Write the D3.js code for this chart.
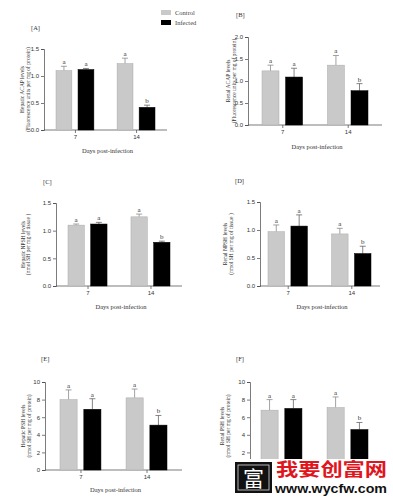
<!DOCTYPE html>
<html>
<head>
<meta charset="utf-8">
<script src="https://cdn.jsdelivr.net/npm/d3@7"></script>
<style>
  body { margin: 0; background: #fff; }
  svg { display: block; font-family: "Liberation Serif", "DejaVu Serif", serif; }
  .tick text { font-size: 6px; fill: #333; }
  .domain, .tick line { stroke: #444; stroke-width: 0.7; }
</style>
</head>
<body>
<div id="chart"></div>
<script>
// categories
const days = ['7', '14'];
const groups = ['Control', 'Infected'];

// y ticks
const ticks15 = [0, 0.5, 1.0, 1.5];
const ticks20 = [0, 0.5, 1.0, 1.5, 2.0];
const ticks10 = [0, 2, 4, 6, 8, 10];

// [A] hepatic ACAP
const hepAcapControl = [1.10, 1.23];
const hepAcapControlErr = [0.08, 0.10];
const hepAcapInfected = [1.12, 0.42];
const hepAcapInfectedErr = [0.02, 0.04];
const hepAcapLetters = [['a', 'a'], ['a', 'b']];

// [B] renal ACAP
const renAcapControl = [1.23, 1.36];
const renAcapControlErr = [0.13, 0.22];
const renAcapInfected = [1.09, 0.78];
const renAcapInfectedErr = [0.20, 0.16];
const renAcapLetters = [['a', 'a'], ['a', 'b']];

// [C] hepatic NPSH
const hepNpshControl = [1.10, 1.25];
const hepNpshControlErr = [0.02, 0.05];
const hepNpshInfected = [1.12, 0.79];
const hepNpshInfectedErr = [0.03, 0.02];
const hepNpshLetters = [['a', 'a'], ['a', 'b']];

// [D] renal NPSH
const renNpshControl = [0.97, 0.93];
const renNpshControlErr = [0.12, 0.10];
const renNpshInfected = [1.07, 0.58];
const renNpshInfectedErr = [0.20, 0.13];
const renNpshLetters = [['a', 'a'], ['a', 'b']];

// [E] hepatic PSH
const hepPshControl = [8.0, 8.2];
const hepPshControlErr = [1.1, 1.0];
const hepPshInfected = [6.9, 5.1];
const hepPshInfectedErr = [1.2, 1.1];
const hepPshLetters = [['a', 'a'], ['a', 'b']];

// [F] renal PSH
const renPshControl = [6.8, 7.1];
const renPshControlErr = [1.2, 1.2];
const renPshInfected = [7.0, 4.6];
const renPshInfectedErr = [1.0, 0.8];
const renPshLetters = [['a', 'a'], ['a', 'b']];

const colors = { Control: '#c9c9c9', Infected: '#000' };
const errColors = { Control: '#8a8a8a', Infected: '#666' };

const svg = d3.select('#chart').append('svg')
    .attr('width', 393)
    .attr('height', 500);

svg.append('rect').attr('width', 393).attr('height', 500).attr('fill', '#fff');

function drawPanel(p) {
    const y = d3.scaleLinear().domain([0, p.ticks[p.ticks.length - 1]]).range([p.y0, p.yTop]);
    const xGroup = d3.scaleBand().domain(days).range(p.bars).paddingInner(0.38);
    const xSeries = d3.scaleBand().domain(groups).range([0, xGroup.bandwidth()]).paddingInner(0.28);

    const g = svg.append('g');

    // y axis
    const yAxisG = g.append('g')
        .attr('transform', `translate(${p.x0},0)`)
        .call(d3.axisLeft(y).tickValues(p.ticks).tickSize(3).tickPadding(2)
            .tickFormat(p.fmt));

    // x axis (labels of the last panel sit under the watermark)
    const xAxisG = g.append('g')
        .attr('transform', `translate(0,${p.y0})`)
        .call(d3.axisBottom(d3.scalePoint().domain(days).range([xGroup('7') + xGroup.bandwidth() / 2, xGroup('14') + xGroup.bandwidth() / 2]))
            .tickSize(3).tickPadding(2).tickSizeOuter(0))
        .call(a => a.select('.domain').attr('d', `M${p.x0},0H${p.x1}`));
    if (p.hideX) {
        xAxisG.selectAll('.tick text').remove();
        yAxisG.selectAll('.tick').filter(d => d === 0).select('text').remove();
    }

    const rows = [];
    days.forEach((d, i) => {
        groups.forEach((s, j) => {
            const src = s === 'Control' ? p.control : p.infected;
            const err = s === 'Control' ? p.controlErr : p.infectedErr;
            rows.push({ day: d, series: s, value: src[i], err: err[i], letter: p.letters[j][i] });
        });
    });

    const bx = d => xGroup(d.day) + xSeries(d.series);
    const cx = d => bx(d) + xSeries.bandwidth() / 2;

    // error bars (drawn first so they come out of the bar top)
    g.selectAll('.err').data(rows).join('path')
        .attr('class', 'err')
        .attr('fill', 'none')
        .attr('stroke', d => errColors[d.series])
        .attr('stroke-width', 0.8)
        .attr('d', d => `M${cx(d)},${y(d.value)}V${y(d.value + d.err)}M${cx(d) - 3},${y(d.value + d.err)}H${cx(d) + 3}`);

    g.selectAll('.bar').data(rows).join('rect')
        .attr('class', 'bar')
        .attr('x', bx)
        .attr('y', d => y(d.value))
        .attr('width', xSeries.bandwidth())
        .attr('height', d => y(0) - y(d.value))
        .attr('fill', d => colors[d.series])
        .attr('stroke', d => d.series === 'Control' ? '#aaa' : '#000')
        .attr('stroke-width', 0.5);

    g.selectAll('.sig').data(rows).join('text')
        .attr('class', 'sig')
        .attr('x', cx)
        .attr('y', d => y(d.value + d.err) - 2)
        .attr('text-anchor', 'middle')
        .attr('font-size', 7)
        .attr('fill', '#333')
        .text(d => d.letter);

    // panel tag
    g.append('text')
        .attr('x', p.tag[0]).attr('y', p.tag[1])
        .attr('font-size', 6.5).attr('fill', '#333')
        .text(p.name);

    // y title, two lines
    const cy = (p.y0 + p.yTop) / 2;
    p.ytitle.forEach((t, k) => {
        g.append('text')
            .attr('transform', `translate(${p.ytx[k]},${cy}) rotate(-90)`)
            .attr('text-anchor', 'middle')
            .attr('dy', '0.35em')
            .attr('font-size', 5.5)
            .attr('fill', '#333')
            .text(t);
    });

    // x title
    if (!p.hideX) {
        g.append('text')
            .attr('x', (p.x0 + p.x1) / 2 + 2).attr('y', p.xty)
            .attr('text-anchor', 'middle')
            .attr('font-size', 6.5).attr('fill', '#333')
            .text('Days post-infection');
    }
}

const fmt1 = d3.format('.1f');
const fmt0 = d3.format('d');

drawPanel({ name: '[A]', ticks: ticks15, fmt: fmt1, x0: 44, x1: 167, y0: 130, yTop: 49, bars: [56, 155],
    control: hepAcapControl, controlErr: hepAcapControlErr, infected: hepAcapInfected, infectedErr: hepAcapInfectedErr,
    letters: hepAcapLetters, tag: [31, 30], ytx: [22, 28], xty: 153,
    ytitle: ['Hepatic ACAP levels', '(Fluorescence units per mg of protein)'] });

drawPanel({ name: '[B]', ticks: ticks20, fmt: fmt1, x0: 248, x1: 382, y0: 125, yTop: 37, bars: [262, 368],
    control: renAcapControl, controlErr: renAcapControlErr, infected: renAcapInfected, infectedErr: renAcapInfectedErr,
    letters: renAcapLetters, tag: [236, 17], ytx: [228, 234], xty: 149,
    ytitle: ['Renal ACAP levels', '(Fluorescence units per mg of protein)'] });

drawPanel({ name: '[C]', ticks: ticks15, fmt: fmt1, x0: 56, x1: 182, y0: 286, yTop: 203, bars: [68, 170],
    control: hepNpshControl, controlErr: hepNpshControlErr, infected: hepNpshInfected, infectedErr: hepNpshInfectedErr,
    letters: hepNpshLetters, tag: [43, 184], ytx: [23, 28], xty: 309,
    ytitle: ['Hepatic NPSH levels', '(nmol SH per mg of tissue )'] });

drawPanel({ name: '[D]', ticks: ticks15, fmt: fmt1, x0: 260, x1: 380, y0: 286, yTop: 202, bars: [268, 371],
    control: renNpshControl, controlErr: renNpshControlErr, infected: renNpshInfected, infectedErr: renNpshInfectedErr,
    letters: renNpshLetters, tag: [235, 183], ytx: [225, 231], xty: 309,
    ytitle: ['Renal  NPSH levels', '(nmol SH per mg of tissue )'] });

drawPanel({ name: '[E]', ticks: ticks10, fmt: fmt0, x0: 45, x1: 182, y0: 470, yTop: 382, bars: [60, 167],
    control: hepPshControl, controlErr: hepPshControlErr, infected: hepPshInfected, infectedErr: hepPshInfectedErr,
    letters: hepPshLetters, tag: [41, 361], ytx: [23, 29], xty: 492,
    ytitle: ['Hepatic PSH levels', '(nmol SH per mg of protein)'] });

drawPanel({ name: '[F]', ticks: ticks10, fmt: fmt0, x0: 250, x1: 382, y0: 470, yTop: 382, bars: [261, 368],
    control: renPshControl, controlErr: renPshControlErr, infected: renPshInfected, infectedErr: renPshInfectedErr,
    letters: renPshLetters, tag: [236, 361], ytx: [222, 228], xty: 492, hideX: true,
    ytitle: ['Renal PSH levels', '(nmol SH per mg of protein)'] });

// legend
const legend = svg.append('g').attr('transform', 'translate(161,10)');
groups.forEach((s, i) => {
    legend.append('rect')
        .attr('x', 0).attr('y', i * 10)
        .attr('width', 10).attr('height', 5)
        .attr('fill', colors[s]);
    legend.append('text')
        .attr('x', 14).attr('y', i * 10 + 4.5)
        .attr('font-size', 6.5).attr('fill', '#444')
        .text(s);
});

// site watermark over the bottom right
const wm = svg.append('g');
wm.append('rect').attr('x', 233).attr('y', 459).attr('width', 160).attr('height', 41).attr('fill', '#fff');
wm.append('rect').attr('x', 235).attr('y', 462).attr('width', 37).attr('height', 31).attr('fill', '#111');
wm.append('rect').attr('x', 238).attr('y', 465).attr('width', 31).attr('height', 25)
    .attr('fill', 'none').attr('stroke', '#ddd').attr('stroke-width', 0.8);
wm.append('text').attr('x', 253.5).attr('y', 486).attr('text-anchor', 'middle')
    .attr('font-family', '"Noto Sans CJK SC", sans-serif').attr('font-size', 21).attr('fill', '#fff')
    .text('富');
wm.append('text').attr('x', 276).attr('y', 476)
    .attr('font-family', '"Noto Sans CJK SC", sans-serif').attr('font-weight', 'bold')
    .attr('font-size', 18).attr('fill', '#e0161e')
    .attr('textLength', 111).attr('lengthAdjust', 'spacingAndGlyphs')
    .text('我要创富网');
wm.append('text').attr('x', 275).attr('y', 493)
    .attr('font-family', '"Liberation Sans", Arial, sans-serif').attr('font-weight', 'bold')
    .attr('font-size', 13).attr('fill', '#111')
    .attr('textLength', 112).attr('lengthAdjust', 'spacingAndGlyphs')
    .text('www.wycfw.com');
</script>
</body>
</html>
